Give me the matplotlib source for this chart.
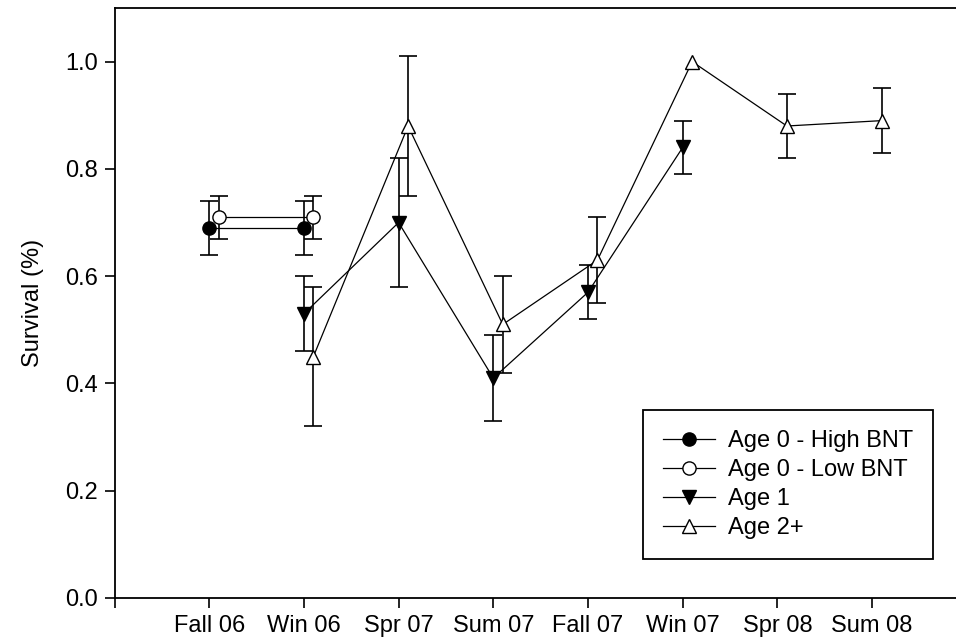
import numpy as np
import matplotlib
matplotlib.use('Agg')
import matplotlib.pyplot as plt
from matplotlib import rcParams

config = {
    "font.family": ['Liberation Sans', 'DejaVu Sans'],
    "font.size": 17,
}
rcParams.update(config)

seasons = ["Fall 06", "Win 06", "Spr 07", "Sum 07", "Fall 07", "Win 07", "Spr 08", "Sum 08"]

# season index (1 = Fall 06); Low BNT and Age 2+ are nudged right by 0.1
age0_high_x = [1, 2]
age0_high_y = [0.69, 0.69]
age0_high_err = [0.05, 0.05]

age0_low_x = [1.1, 2.1]
age0_low_y = [0.71, 0.71]
age0_low_err = [0.04, 0.04]

age1_x = [2, 3, 4, 5, 6]
age1_y = [0.53, 0.70, 0.41, 0.57, 0.84]
age1_err = [0.07, 0.12, 0.08, 0.05, 0.05]

age2_x = [2.1, 3.1, 4.1, 5.1, 6.1, 7.1, 8.1]
age2_y = [0.45, 0.88, 0.51, 0.63, 1.00, 0.88, 0.89]
age2_err = [0.13, 0.13, 0.09, 0.08, np.nan, 0.06, 0.06]

fig = plt.figure(figsize=(9.56, 6.4), dpi=100)
# axes run off the right edge of the figure
ax = fig.add_axes([114.5/956, 42/640, 9*94.7/956, 590/640])

series = [
    (age0_high_x, age0_high_y, age0_high_err, 'o', 'black', 9.5, "Age 0 - High BNT"),
    (age0_low_x, age0_low_y, age0_low_err, 'o', 'white', 9.5, "Age 0 - Low BNT"),
    (age1_x, age1_y, age1_err, 'v', 'black', 10.5, "Age 1"),
    (age2_x, age2_y, age2_err, '^', 'white', 10.5, "Age 2+"),
]

handles = []
for X, Y, E, mk, fc, ms, lab in series:
    X = np.array(X, dtype=float)
    Y = np.array(Y, dtype=float)
    E = np.array(E, dtype=float)
    ok = ~np.isnan(E)
    ax.errorbar(X[ok], Y[ok], yerr=E[ok], fmt='none', ecolor='black',
                elinewidth=1.2, capsize=6.5, capthick=1.2, zorder=2)
    h, = ax.plot(X, Y, color='black', linewidth=0.9, marker=mk, markersize=ms,
                 markerfacecolor=fc, markeredgecolor='black', markeredgewidth=1.0,
                 label=lab, zorder=3)
    handles.append(h)

ax.set_xlim(0, 9)
ax.set_ylim(0, 1.1)
ax.set_xticks(np.arange(0, 9))
ax.set_xticklabels([""] + seasons)
ax.set_yticks(np.arange(0, 1.01, 0.2))
ax.set_yticklabels(["0.0", "0.2", "0.4", "0.6", "0.8", "1.0"])
ax.tick_params(direction='out', length=7, width=1.2, pad=5)
ax.set_ylabel("Survival (%)", labelpad=15)

for s in ['left', 'bottom', 'top']:
    ax.spines[s].set_linewidth(1.3)
ax.spines['right'].set_visible(False)

leg = ax.legend(handles=handles, loc='upper left',
                bbox_to_anchor=(643/956, 1 - 410/640), bbox_transform=fig.transFigure,
                borderaxespad=0, handlelength=2.2, handletextpad=0.55,
                labelspacing=0.3, borderpad=0.85, fancybox=False, framealpha=1,
                edgecolor='black')
leg.get_frame().set_linewidth(1.3)

plt.savefig("out.png", dpi=100)
